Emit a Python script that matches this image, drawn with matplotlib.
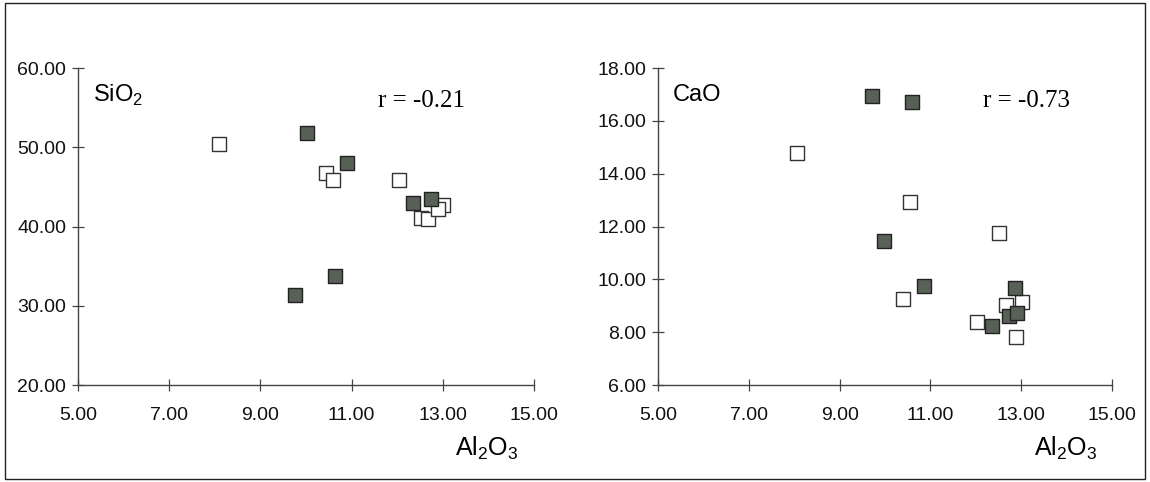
import matplotlib
matplotlib.use("Agg")
import matplotlib.pyplot as plt
from matplotlib.patches import Rectangle

# Al2O3 vs SiO2
si_open_x = [8.09, 10.44, 10.59, 12.04, 12.52, 12.68, 13.0, 12.9]
si_open_y = [50.4, 46.7, 45.9, 45.9, 41.1, 41.0, 42.7, 42.2]
si_fill_x = [10.02, 10.9, 12.35, 12.74, 10.64, 9.76]
si_fill_y = [51.8, 48.0, 43.0, 43.5, 33.8, 31.3]

# Al2O3 vs CaO
ca_open_x = [8.06, 10.55, 12.51, 10.4, 12.67, 13.02, 12.03, 12.89]
ca_open_y = [14.8, 12.93, 11.76, 9.26, 9.03, 9.14, 8.39, 7.82]
ca_fill_x = [9.71, 10.6, 9.98, 10.86, 12.86, 12.73, 12.9, 12.36]
ca_fill_y = [16.95, 16.7, 11.45, 9.75, 9.67, 8.6, 8.73, 8.23]

xticks = [5, 7, 9, 11, 13, 15]
si_yticks = [20, 30, 40, 50, 60]
ca_yticks = [6, 8, 10, 12, 14, 16, 18]

plt.rcParams['font.family'] = ['Liberation Sans', 'DejaVu Sans']

fig = plt.figure(figsize=(11.5, 4.82), dpi=100)
fig.patches.append(Rectangle((0.004, 0.006), 0.992, 0.988, transform=fig.transFigure,
                             fill=False, edgecolor='#222222', linewidth=1.0))

ax1 = fig.add_axes([0.0678, 0.2012, 0.3965, 0.6577])
ax2 = fig.add_axes([0.5722, 0.2012, 0.3948, 0.6577])

fill_col = '#586156'
for ax, ox, oy, fx, fy, yt, name, r, rx in [
        (ax1, si_open_x, si_open_y, si_fill_x, si_fill_y, si_yticks, 'SiO$_\\mathregular{2}$', 'r = -0.21', 0.658),
        (ax2, ca_open_x, ca_open_y, ca_fill_x, ca_fill_y, ca_yticks, 'CaO', 'r = -0.73', 0.716)]:
    ax.scatter(ox, oy, marker='s', s=105, facecolor='white', edgecolor='#333333', linewidth=1.0, zorder=3)
    ax.scatter(fx, fy, marker='s', s=105, facecolor=fill_col, edgecolor='#222222', linewidth=1.0, zorder=3)
    ax.set_xlim(5, 15)
    ax.set_ylim(yt[0], yt[-1])
    ax.set_xticks(xticks)
    ax.set_yticks(yt)
    ax.set_xticklabels(['%.2f' % v for v in xticks])
    ax.set_yticklabels(['%.2f' % v for v in yt])
    for s in ['top', 'right']:
        ax.spines[s].set_visible(False)
    for s in ['left', 'bottom']:
        ax.spines[s].set_color('#444444')
        ax.spines[s].set_linewidth(1.0)
    ax.tick_params(direction='inout', length=9, width=0.9, color='#444444',
                   labelsize=14, labelcolor='#111111')
    ax.tick_params(axis='x', pad=11)
    ax.tick_params(axis='y', pad=4)
    ax.text(0.032, 0.915, name, transform=ax.transAxes, fontsize=17, va='center', ha='left')
    ax.text(rx, 0.896, r, transform=ax.transAxes, fontsize=18, va='center', ha='left',
            family='Liberation Serif')
    ax.text(0.897, -0.2, 'Al$_\\mathregular{2}$O$_\\mathregular{3}$', transform=ax.transAxes,
            fontsize=18, va='center', ha='center')
    ax.set_facecolor('none')

fig.savefig('out.png', dpi=100)
